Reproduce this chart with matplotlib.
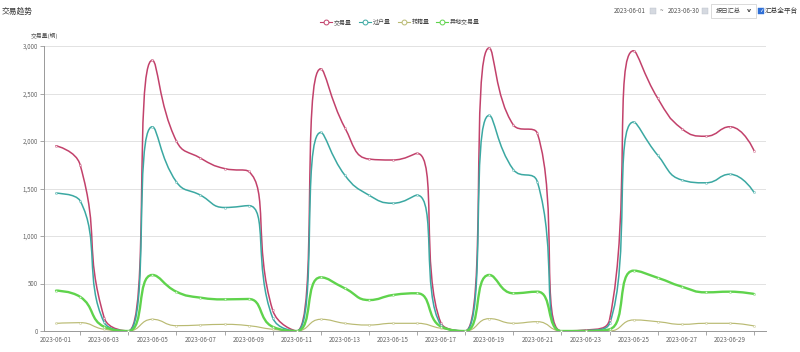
import numpy as np
import matplotlib
matplotlib.use("Agg")
import matplotlib.pyplot as plt
from matplotlib.path import Path
from matplotlib.patches import PathPatch, Rectangle
from matplotlib.lines import Line2D

plt.rcParams['font.family'] = ['Noto Sans CJK SC', 'DejaVu Sans']

# ---------------- data ----------------
dates = ["2023-06-%02d" % d for d in range(1, 31)]
series_names = ["交易量", "过户量", "转籍量", "异地交易量"]
trade = [1950, 1750, 140, 0, 2850, 2000, 1820, 1710, 1680, 220,
         0, 2760, 2140, 1810, 1800, 1870, 80, 0, 2980, 2170,
         2080, 0, 10, 120, 2950, 2450, 2130, 2050, 2150, 1900]
transfer = [1450, 1370, 90, 0, 2150, 1570, 1430, 1300, 1320, 140,
            0, 2090, 1640, 1430, 1345, 1430, 60, 0, 2270, 1700,
            1570, 0, 5, 80, 2200, 1850, 1590, 1560, 1650, 1460]
regist = [80, 88, 18, 0, 123, 56, 63, 70, 56, 18,
          0, 123, 81, 63, 81, 81, 28, 0, 130, 81,
          98, 0, 0, 0, 116, 98, 70, 81, 81, 53]
remote = [425, 360, 45, 0, 590, 414, 351, 333, 337, 45,
          0, 565, 449, 326, 379, 397, 46, 0, 590, 397,
          414, 0, 0, 18, 635, 560, 467, 407, 414, 390]
colors = ["#c2416b", "#3ba8a2", "#b9ba72", "#5fd34c"]
widths = [1.1, 1.1, 0.85, 1.7]

W, H = 800, 352
fig = plt.figure(figsize=(W / 100, H / 100), dpi=100)
ax_l, ax_r, ax_t, ax_b = 44, 766, 46, 331
ax = fig.add_axes([ax_l / W, 1 - ax_b / H, (ax_r - ax_l) / W, (ax_b - ax_t) / H])
ax.set_xlim(-0.5, 29.5)
ax.set_ylim(0, 3000)

# pixel scale factors for echarts-like smoothing
sx = (ax_r - ax_l) / 30.0
sy = (ax_b - ax_t) / 3000.0


def smooth_path(xs, ys, smooth=0.5):
    P = [(x * sx, y * sy) for x, y in zip(xs, ys)]
    n = len(P)
    verts = [P[0]]
    codes = [Path.MOVETO]
    cpx0, cpy0 = P[0]
    for i in range(1, n):
        x, y = P[i]
        px, py = P[i - 1]
        if i < n - 1:
            nx, ny = P[i + 1]
            vx, vy = nx - px, ny - py
            lp = np.hypot(x - px, y - py)
            ln = np.hypot(nx - x, ny - y)
            r = ln / (ln + lp) if (ln + lp) > 0 else 0.5
            ncx = x + vx * smooth * r
            ncy = y + vy * smooth * r
            ncx = max(min(ncx, max(nx, x)), min(nx, x))
            ncy = max(min(ncy, max(ny, y)), min(ny, y))
            vx, vy = ncx - x, ncy - y
            if ln > 0:
                cx1 = x - vx * lp / ln
                cy1 = y - vy * lp / ln
            else:
                cx1, cy1 = x, y
            cx1 = max(min(cx1, max(px, x)), min(px, x))
            cy1 = max(min(cy1, max(py, y)), min(py, y))
            vx, vy = x - cx1, y - cy1
            if lp > 0:
                ncx = x + vx * ln / lp
                ncy = y + vy * ln / lp
            else:
                ncx, ncy = x, y
        else:
            cx1, cy1 = x, y
            ncx, ncy = x, y
        verts += [(cpx0, cpy0), (cx1, cy1), (x, y)]
        codes += [Path.CURVE4] * 3
        cpx0, cpy0 = ncx, ncy
    verts = [(vx / sx, vy / sy) for vx, vy in verts]
    return Path(verts, codes)


# grid
for v in range(500, 3001, 500):
    ax.axhline(v, color="#e2e2e2", lw=0.7, zorder=0)

xs = np.arange(len(dates))
for vals, c, lw in zip([trade, transfer, regist, remote], colors, widths):
    ax.add_patch(PathPatch(smooth_path(xs, vals), fill=False, edgecolor=c, lw=lw, zorder=3,
                           capstyle="round", joinstyle="round"))
    ax.plot(xs, vals, ls="none", marker="o", ms=1.5, mfc="white", mec=c, mew=0.35,
            alpha=0.8, zorder=4)

# axes styling
for s in ["top", "right"]:
    ax.spines[s].set_visible(False)
ax.spines["left"].set_color("#999999")
ax.spines["bottom"].set_color("#999999")
ax.spines["left"].set_linewidth(0.7)
ax.spines["bottom"].set_linewidth(0.7)
ax.set_yticks(range(0, 3001, 500))
ax.set_yticklabels([f"{v:,}" for v in range(0, 3001, 500)])
ax.tick_params(axis="y", length=3, width=0.6, color="#999999", labelsize=4.4,
               labelcolor="#666666", pad=1.5)
ax.set_xticks(xs[::2])
ax.set_xticklabels(dates[::2])
ax.set_xticks(xs[1::2], minor=True)
ax.tick_params(axis="x", which="major", length=0, labelsize=4.5, labelcolor="#666666", pad=3.5)
ax.tick_params(axis="x", which="minor", length=3, width=0.6, color="#999999")

# title & axis name
fig.text(2 / W, 1 - 12 / H, "交易趋势", fontsize=5.6, color="#333333", va="center", ha="left")
fig.text(44 / W, 1 - 36 / H, "交易量(辆)", fontsize=4.2, color="#555555", va="center", ha="center")

# legend
handles = [Line2D([0], [0], color=c, lw=0.8, marker="o", ms=3.5, mfc="white", mec=c, mew=0.7)
           for c in colors]
fig.legend(handles, series_names, loc="center", bbox_to_anchor=(400 / W, 1 - 22 / H),
           ncol=4, frameon=False, fontsize=4.3, handlelength=2.0, handletextpad=0.3,
           columnspacing=1.2, labelcolor="#444444")

# top-right controls
ty = 1 - 11 / H
fig.text(614 / W, ty, "2023-06-01", fontsize=4.5, color="#555555", va="center", ha="left")
fig.add_artist(Rectangle((650 / W, 1 - 14 / H), 6 / W, 6 / H, facecolor="#d5d9e0",
                         edgecolor="#b8bec8", lw=0.3, transform=fig.transFigure))
fig.text(660 / W, ty, "~", fontsize=4.5, color="#555555", va="center", ha="left")
fig.text(668 / W, ty, "2023-06-30", fontsize=4.5, color="#555555", va="center", ha="left")
fig.add_artist(Rectangle((702 / W, 1 - 14 / H), 6 / W, 6 / H, facecolor="#d5d9e0",
                         edgecolor="#b8bec8", lw=0.3, transform=fig.transFigure))
fig.add_artist(Rectangle((711 / W, 1 - 18 / H), 45 / W, 14 / H, facecolor="white",
                         edgecolor="#cccccc", lw=0.5, transform=fig.transFigure))
fig.text(716 / W, ty, "按日汇总", fontsize=4.5, color="#444444", va="center", ha="left")
fig.text(749 / W, ty, "v", fontsize=4.5, color="#444444", va="center", ha="center",
         family=["DejaVu Sans"], fontweight="bold")
fig.add_artist(Rectangle((758 / W, 1 - 14 / H), 6 / W, 6 / H, facecolor="#2f6fd6",
                         edgecolor="#2f6fd6", lw=0.3, transform=fig.transFigure))
fig.text(761 / W, ty, "✓", fontsize=4, color="white", va="center", ha="center",
         family=["DejaVu Sans"])
fig.text(765 / W, ty, "汇总全平台", fontsize=4.8, color="#333333", va="center", ha="left")

fig.savefig("out.png", dpi=100)
